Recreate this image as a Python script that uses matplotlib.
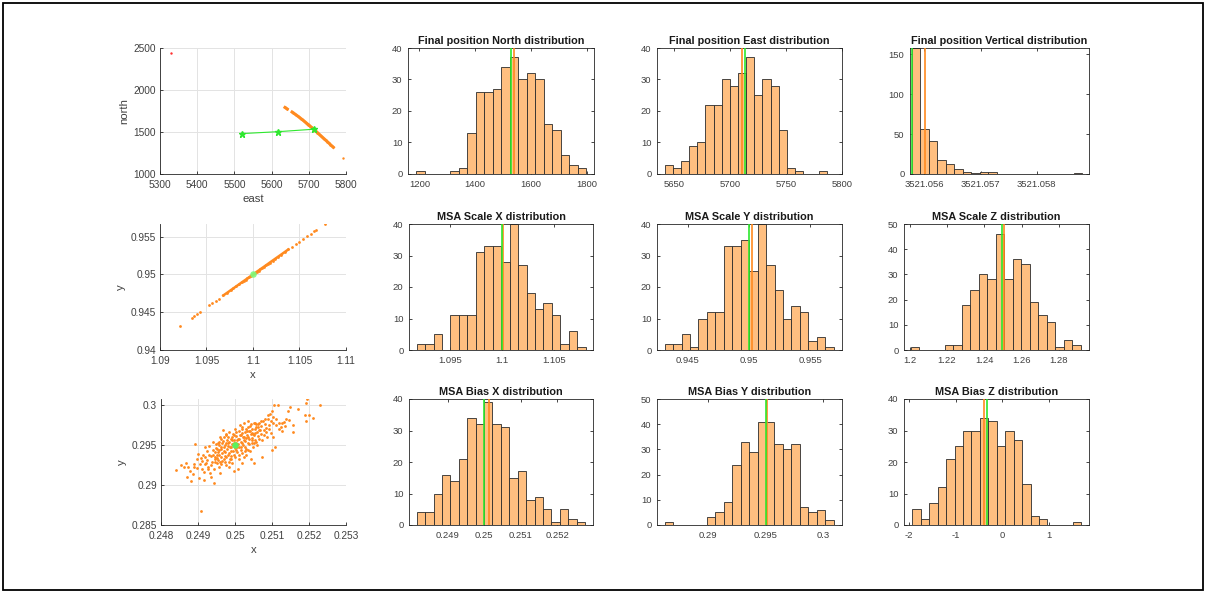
import matplotlib
matplotlib.use("Agg")
import matplotlib.pyplot as plt
from matplotlib.patches import Rectangle

plt.rcParams['font.family'] = ['Liberation Sans', 'DejaVu Sans']

# ---------------- data ----------------
# scatter 1 : north vs east
traj_east = [5636, 5639, 5642, 5655, 5658, 5662, 5666, 5670, 5673, 5676, 5679, 5682, 5685, 5688,
             5690, 5693, 5695, 5697, 5699, 5701, 5703, 5705, 5707, 5709, 5711, 5713, 5715, 5717,
             5719, 5721, 5723, 5725, 5727, 5730, 5733, 5736, 5739, 5742, 5746, 5750, 5754, 5758,
             5762, 5766, 5792]
traj_north = [1792, 1783, 1774, 1738, 1729, 1716, 1703, 1690, 1680, 1670, 1659, 1649, 1638, 1627,
              1620, 1609, 1601, 1594, 1586, 1579, 1571, 1563, 1556, 1548, 1540, 1532, 1524, 1516,
              1508, 1500, 1492, 1484, 1476, 1464, 1452, 1440, 1428, 1416, 1400, 1384, 1368, 1350,
              1334, 1318, 1185]
start_east = [5330]
start_north = [2440]
truth_east = [5520, 5618, 5713]
truth_north = [1481, 1504, 1533]

# scatter 2 : scale y vs scale x
scale_x = [1.0922, 1.0934, 1.0937, 1.0940, 1.0943, 1.0953, 1.0956, 1.0960, 1.0963, 1.0968, 1.0972,
           1.0976, 1.0979, 1.0982, 1.0985, 1.0988, 1.0990, 1.0992, 1.0994, 1.0996, 1.0998, 1.1000,
           1.1002, 1.1004, 1.1006, 1.1008, 1.1010, 1.1012, 1.1014, 1.1016, 1.1018, 1.1021, 1.1024,
           1.1027, 1.1030, 1.1034, 1.1038, 1.1042, 1.1046, 1.1050, 1.1054, 1.1058, 1.1062, 1.1066,
           1.1068, 1.1077]
scale_y = [0.94321, 0.94426, 0.94452, 0.94478, 0.94504, 0.94591, 0.94617, 0.94652, 0.94678, 0.94722,
           0.94756, 0.94791, 0.94817, 0.94843, 0.94869, 0.94896, 0.94913, 0.94930, 0.94948, 0.94965,
           0.94983, 0.95000, 0.95017, 0.95035, 0.95052, 0.95070, 0.95087, 0.95104, 0.95122, 0.95139,
           0.95157, 0.95183, 0.95209, 0.95235, 0.95261, 0.95296, 0.95331, 0.95365, 0.95400, 0.95435,
           0.95470, 0.95505, 0.95539, 0.95574, 0.95592, 0.95670]
scale_true = (1.1, 0.95)

# scatter 3 : bias y vs bias x
bias_pts = [
    (0.24841, 0.29185), (0.24855, 0.29245), (0.24862, 0.29230), (0.24870, 0.29105), (0.24872, 0.29225),
    (0.24880, 0.29048), (0.24886, 0.29135), (0.24890, 0.29262), (0.24893, 0.29510), (0.24896, 0.29330),
    (0.24900, 0.29385), (0.24903, 0.29090), (0.24907, 0.28670), (0.24905, 0.29265), (0.24910, 0.29305),
    (0.24912, 0.29200), (0.24915, 0.29160), (0.24917, 0.29060), (0.24918, 0.29480), (0.24920, 0.29345),
    (0.24922, 0.29280), (0.24925, 0.29420), (0.24928, 0.29230), (0.24930, 0.29490), (0.24933, 0.29150),
    (0.24935, 0.29360), (0.24937, 0.29290), (0.24940, 0.29540), (0.24942, 0.29020), (0.24944, 0.29200),
    (0.24945, 0.29410), (0.24947, 0.29330), (0.24948, 0.29460), (0.24950, 0.29270), (0.24952, 0.29380),
    (0.24953, 0.29520), (0.24955, 0.29310), (0.24956, 0.29440), (0.24958, 0.29230), (0.24960, 0.29600),
    (0.24961, 0.29350), (0.24962, 0.29480), (0.24964, 0.29400), (0.24965, 0.29300), (0.24967, 0.29550),
    (0.24968, 0.29690), (0.24970, 0.29420), (0.24972, 0.29360), (0.24973, 0.29500), (0.24975, 0.29250),
    (0.24976, 0.29620), (0.24978, 0.29450), (0.24980, 0.29380), (0.24981, 0.29530), (0.24983, 0.29220),
    (0.24984, 0.29660), (0.24986, 0.29470), (0.24987, 0.29330), (0.24988, 0.29580), (0.24990, 0.29420),
    (0.24991, 0.29510), (0.24993, 0.29280), (0.24994, 0.29640), (0.24996, 0.29380), (0.24997, 0.29560),
    (0.24999, 0.29460), (0.25000, 0.29700), (0.25001, 0.29350), (0.25003, 0.29520), (0.25004, 0.29610),
    (0.25005, 0.29410), (0.25007, 0.29200), (0.25008, 0.29570), (0.25010, 0.29680), (0.25011, 0.29470),
    (0.25012, 0.29320), (0.25014, 0.29750), (0.25015, 0.29540), (0.25016, 0.29630), (0.25018, 0.29400),
    (0.25019, 0.29720), (0.25021, 0.29500), (0.25022, 0.29600), (0.25024, 0.29780), (0.25025, 0.29350),
    (0.25026, 0.29660), (0.25028, 0.29550), (0.25029, 0.29700), (0.25031, 0.29450), (0.25032, 0.29620),
    (0.25034, 0.29800), (0.25035, 0.29520), (0.25037, 0.29680), (0.25038, 0.29580), (0.25040, 0.29740),
    (0.25042, 0.29320), (0.25043, 0.29640), (0.25045, 0.29560), (0.25047, 0.29700), (0.25048, 0.29480),
    (0.25050, 0.29780), (0.25052, 0.29620), (0.25054, 0.29700), (0.25056, 0.29540), (0.25058, 0.29760),
    (0.25060, 0.29660), (0.25062, 0.29720), (0.25064, 0.29580), (0.25066, 0.29770), (0.25068, 0.29690),
    (0.25071, 0.29740), (0.25074, 0.29350), (0.25076, 0.29800), (0.25079, 0.29690), (0.25082, 0.29760),
    (0.25085, 0.29710), (0.25088, 0.29820), (0.25091, 0.29750), (0.25095, 0.29890), (0.25098, 0.29800),
    (0.25100, 0.29440), (0.25101, 0.29930), (0.25103, 0.29600), (0.25104, 0.29850), (0.25106, 0.30000),
    (0.25108, 0.29470), (0.25112, 0.29750), (0.25116, 0.30000), (0.25120, 0.29780), (0.25124, 0.29720),
    (0.25128, 0.29680), (0.25132, 0.29790), (0.25138, 0.29830), (0.25142, 0.29930), (0.25148, 0.29970),
    (0.25156, 0.29750), (0.25158, 0.29660), (0.25170, 0.29950), (0.25188, 0.29870), (0.25192, 0.29800),
    (0.25193, 0.30030), (0.25195, 0.30080), (0.25200, 0.29870), (0.25210, 0.29840), (0.25230, 0.30000),
    (0.24950, 0.29450), (0.24962, 0.29570), (0.24975, 0.29520), (0.24985, 0.29400), (0.24995, 0.29500),
    (0.25005, 0.29480), (0.25015, 0.29440), (0.25025, 0.29600), (0.25035, 0.29440), (0.24945, 0.29350),
    (0.24935, 0.29250), (0.24925, 0.29310), (0.24972, 0.29290), (0.24982, 0.29600), (0.25052, 0.29520),
    (0.25060, 0.29500), (0.25045, 0.29650), (0.25030, 0.29380), (0.25012, 0.29580), (0.24998, 0.29620),
    (0.25018, 0.29520), (0.24958, 0.29500), (0.24990, 0.29330), (0.25020, 0.29270), (0.25040, 0.29420),
    (0.24940, 0.29380), (0.24946, 0.29290), (0.24951, 0.29340), (0.24954, 0.29410), (0.24957, 0.29370),
    (0.24959, 0.29290), (0.24963, 0.29450), (0.24966, 0.29520), (0.24969, 0.29330), (0.24971, 0.29470),
    (0.24974, 0.29410), (0.24977, 0.29350), (0.24979, 0.29560), (0.24982, 0.29490), (0.24985, 0.29540),
    (0.24988, 0.29360), (0.24989, 0.29470), (0.24992, 0.29560), (0.24995, 0.29420), (0.24998, 0.29530),
    (0.25002, 0.29440), (0.25006, 0.29560), (0.25009, 0.29510), (0.25013, 0.29620), (0.25017, 0.29480),
    (0.25020, 0.29650), (0.25023, 0.29560), (0.25027, 0.29480), (0.25030, 0.29590), (0.25033, 0.29680),
    (0.25036, 0.29600), (0.25039, 0.29510), (0.25041, 0.29670), (0.25044, 0.29760), (0.25046, 0.29590),
    (0.25049, 0.29640), (0.25053, 0.29560), (0.25055, 0.29650), (0.25057, 0.29720), (0.25061, 0.29610),
    (0.25065, 0.29690), (0.25069, 0.29640), (0.25072, 0.29560), (0.25078, 0.29620), (0.25083, 0.29660),
    (0.25087, 0.29600), (0.25093, 0.29700), (0.25097, 0.29650), (0.24930, 0.29380), (0.24926, 0.29200),
    (0.24920, 0.29260), (0.24913, 0.29380), (0.24908, 0.29340), (0.24898, 0.29210), (0.24888, 0.29230),
    (0.24878, 0.29170), (0.24868, 0.29280), (0.24941, 0.29440), (0.24949, 0.29510), (0.24956, 0.29540),
    (0.24963, 0.29260), (0.24969, 0.29600), (0.24977, 0.29640), (0.24984, 0.29290), (0.24993, 0.29600),
    (0.25003, 0.29660), (0.25010, 0.29380), (0.25019, 0.29700), (0.25028, 0.29420), (0.25036, 0.29720),
    (0.25047, 0.29520), (0.25055, 0.29780), (0.25063, 0.29760), (0.25070, 0.29800), (0.25081, 0.29830),
    (0.25090, 0.29880), (0.25102, 0.29770), (0.25110, 0.29820), (0.25118, 0.29700), (0.25126, 0.29780),
    (0.25135, 0.29740), (0.25145, 0.29810), (0.24934, 0.29100), (0.24960, 0.29150), (0.24998, 0.29180),
    (0.25050, 0.29280),
]
bias_true = (0.25, 0.295)

# histograms: title, first bin edge, bin width, counts, truth line, mean line
hist_titles = ["Final position North distribution", "Final position East distribution",
               "Final position Vertical distribution",
               "MSA Scale X distribution", "MSA Scale Y distribution", "MSA Scale Z distribution",
               "MSA Bias X distribution", "MSA Bias Y distribution", "MSA Bias Z distribution"]
hist_start = [1189.0, 5642.0, 3521.055772, 1.091815, 0.943135, 1.20063, 0.248155, 0.28624, -1.9286]
hist_width = [30.5, 7.25, 0.000152, 0.000809, 0.000688, 0.00455, 0.00023, 0.000733, 0.181]
hist_counts = [
    [1, 0, 0, 0, 1, 2, 13, 26, 26, 27, 34, 37, 30, 32, 30, 16, 14, 6, 3, 2],
    [3, 2, 4, 9, 10, 22, 22, 30, 28, 32, 37, 25, 30, 28, 14, 2, 1, 0, 0, 1],
    [158, 57, 41, 17, 12, 6, 2, 1, 3, 2, 0, 0, 0, 0, 0, 0, 0, 0, 0, 1],
    [2, 2, 5, 0, 11, 11, 11, 31, 33, 33, 28, 40, 27, 18, 13, 15, 11, 2, 6, 1],
    [2, 2, 5, 1, 10, 12, 12, 33, 33, 35, 25, 40, 27, 19, 10, 14, 12, 3, 4, 1],
    [1, 0, 0, 0, 2, 2, 18, 24, 30, 28, 46, 28, 36, 34, 19, 14, 11, 1, 4, 2],
    [4, 4, 10, 16, 14, 21, 34, 32, 39, 32, 31, 15, 17, 8, 9, 5, 1, 5, 2, 1],
    [1, 0, 0, 0, 0, 3, 5, 9, 24, 33, 29, 41, 41, 32, 30, 32, 7, 5, 6, 2],
    [5, 2, 7, 12, 21, 25, 30, 30, 34, 33, 25, 30, 27, 13, 3, 2, 0, 0, 0, 1],
]
hist_truth = [1530, 5713.5, 3521.055778, 1.09995, 0.94998, 1.2497, 0.24999, 0.295, -0.33]
hist_mean = [1538, 5710.5, 3521.056018, 1.10005, 0.95022, 1.2507, 0.25013, 0.29508, -0.39]
hist_xlim = [(1159, 1826), (5635, 5799), (3521.055743, 3521.058934), (1.09108, 1.1087),
             (0.94251, 0.95757), (1.197, 1.2961), (0.247945, 0.252973), (0.28558, 0.30163),
             (-2.107, 1.857)]
hist_ylim = [40, 40, 158, 40, 40, 50, 40, 50, 40]
hist_xticks = [[1200, 1400, 1600, 1800], [5650, 5700, 5750, 5800],
               [3521.056, 3521.057, 3521.058], [1.095, 1.1, 1.105], [0.945, 0.95, 0.955],
               [1.2, 1.22, 1.24, 1.26, 1.28], [0.249, 0.25, 0.251, 0.252], [0.29, 0.295, 0.3],
               [-2, -1, 0, 1]]
hist_xticklabels = [["1200", "1400", "1600", "1800"], ["5650", "5700", "5750", "5800"],
                    ["3521.056", "3521.057", "3521.058"], ["1.095", "1.1", "1.105"],
                    ["0.945", "0.95", "0.955"], ["1.2", "1.22", "1.24", "1.26", "1.28"],
                    ["0.249", "0.25", "0.251", "0.252"], ["0.29", "0.295", "0.3"],
                    ["-2", "-1", "0", "1"]]
hist_yticks = [[0, 10, 20, 30, 40], [0, 10, 20, 30, 40], [0, 50, 100, 150],
               [0, 10, 20, 30, 40], [0, 10, 20, 30, 40], [0, 10, 20, 30, 40, 50],
               [0, 10, 20, 30, 40], [0, 10, 20, 30, 40, 50], [0, 10, 20, 30, 40]]

# ---------------- layout ----------------
W, H = 1207, 592
fig = plt.figure(figsize=(W / 100, H / 100), dpi=100)
fig.patch.set_facecolor('white')


def rect(l, t, r, b):
    return [l / W, 1 - b / H, (r - l) / W, (b - t) / H]


TXT = '#404040'
AX = '#262626'
ORANGE = '#FF8A1F'
GREEN = '#2EE82E'
FACE = '#FFBF80'


def style_scatter(ax):
    for s in ['top', 'right']:
        ax.spines[s].set_visible(False)
    for s in ['left', 'bottom']:
        ax.spines[s].set_color(AX)
        ax.spines[s].set_linewidth(0.6)
    ax.grid(True, color='#E3E3E3', linewidth=0.7)
    ax.set_axisbelow(True)
    ax.tick_params(direction='in', length=2.5, width=0.6, labelsize=7.3, colors=AX,
                   labelcolor=TXT)
    ax.tick_params(axis='x', pad=4.5)
    ax.tick_params(axis='y', pad=3)


scatter_rects = [rect(160, 48, 346, 174), rect(160, 224, 346, 350), rect(161, 399, 346, 525)]
LAB = dict(fontsize=8.2, color=TXT)

ax1 = fig.add_axes(scatter_rects[0])
ax1.plot(truth_east, truth_north, color=GREEN, lw=0.8, marker='*', ms=5, zorder=4)
ax1.scatter(traj_east, traj_north, s=3, color=ORANGE, lw=0, zorder=3)
ax1.plot(traj_east[:3], traj_north[:3], color=ORANGE, lw=2.2, zorder=3)
ax1.plot(traj_east[3:-1], traj_north[3:-1], color=ORANGE, lw=2.2, zorder=3)
ax1.scatter(start_east, start_north, s=3, color='#FF3030', lw=0, zorder=3)
ax1.set_xlim(5300, 5800)
ax1.set_ylim(1000, 2500)
ax1.set_xticks([5300, 5400, 5500, 5600, 5700, 5800])
ax1.set_yticks([1000, 1500, 2000, 2500])
ax1.set_xlabel('east', labelpad=3, **LAB)
ax1.set_ylabel('north', labelpad=3, **LAB)
style_scatter(ax1)

ax2 = fig.add_axes(scatter_rects[1])
ax2.scatter(scale_x, scale_y, s=4, color=ORANGE, lw=0, zorder=3)
ax2.plot(scale_x[9:37], scale_y[9:37], color=ORANGE, lw=1.8, zorder=3)
ax2.scatter([scale_true[0]], [scale_true[1]], s=22, color='#7CFC7C', lw=0, zorder=4, alpha=0.9)
ax2.set_xlim(1.09, 1.11)
ax2.set_ylim(0.94, 0.95668)
ax2.set_xticks([1.09, 1.095, 1.1, 1.105, 1.11])
ax2.set_xticklabels(["1.09", "1.095", "1.1", "1.105", "1.11"])
ax2.set_yticks([0.94, 0.945, 0.95, 0.955])
ax2.set_yticklabels(["0.94", "0.945", "0.95", "0.955"])
ax2.set_xlabel('x', labelpad=3, **LAB)
ax2.set_ylabel('y', labelpad=3, **LAB)
style_scatter(ax2)

ax3 = fig.add_axes(scatter_rects[2])
bx = [p[0] for p in bias_pts]
by = [p[1] for p in bias_pts]
ax3.scatter(bx, by, s=4, color=ORANGE, lw=0, zorder=3)
ax3.scatter([bias_true[0]], [bias_true[1]], s=22, color='#5CF25C', lw=0, zorder=4)
ax3.set_xlim(0.248, 0.253)
ax3.set_ylim(0.285, 0.30074)
ax3.set_xticks([0.248, 0.249, 0.25, 0.251, 0.252, 0.253])
ax3.set_xticklabels(["0.248", "0.249", "0.25", "0.251", "0.252", "0.253"])
ax3.set_yticks([0.285, 0.29, 0.295, 0.3])
ax3.set_yticklabels(["0.285", "0.29", "0.295", "0.3"])
ax3.set_xlabel('x', labelpad=3, **LAB)
ax3.set_ylabel('y', labelpad=3, **LAB)
style_scatter(ax3)

hist_rects = [rect(408, 48, 594, 174), rect(657, 48, 842, 174), rect(910, 48, 1089, 174),
              rect(409, 224, 593, 350), rect(657, 224, 842, 350), rect(904, 224, 1089, 350),
              rect(409, 399, 593, 525), rect(657, 399, 842, 525), rect(904, 399, 1089, 525)]

for i in range(9):
    ax = fig.add_axes(hist_rects[i])
    counts = hist_counts[i]
    left = [hist_start[i] + k * hist_width[i] for k in range(len(counts))]
    ax.bar(left, counts, width=hist_width[i], align='edge', color=FACE,
           edgecolor='#2b2b2b', linewidth=0.6, zorder=2)
    ax.axvline(hist_mean[i], color=ORANGE, lw=1.2, zorder=3)
    ax.axvline(hist_truth[i], color=GREEN, lw=1.2, zorder=4)
    ax.set_xlim(*hist_xlim[i])
    ax.set_ylim(0, hist_ylim[i])
    ax.set_xticks(hist_xticks[i])
    ax.set_xticklabels(hist_xticklabels[i])
    ax.set_yticks(hist_yticks[i])
    ax.set_title(hist_titles[i], fontsize=7.8, fontweight='bold', color='#1a1a1a', pad=3)
    for s in ax.spines.values():
        s.set_color(AX)
        s.set_linewidth(0.6)
    ax.tick_params(direction='in', length=2.5, width=0.6, labelsize=6.8, colors=AX,
                   labelcolor=TXT, top=True, right=True)
    ax.tick_params(axis='x', pad=4.5)
    ax.tick_params(axis='y', pad=4)

fig.add_artist(Rectangle((3 / W, 2 / H), 1200 / W, 587 / H, fill=False, lw=1.3,
                         ec='black', transform=fig.transFigure))

fig.savefig('out.png', dpi=100)
